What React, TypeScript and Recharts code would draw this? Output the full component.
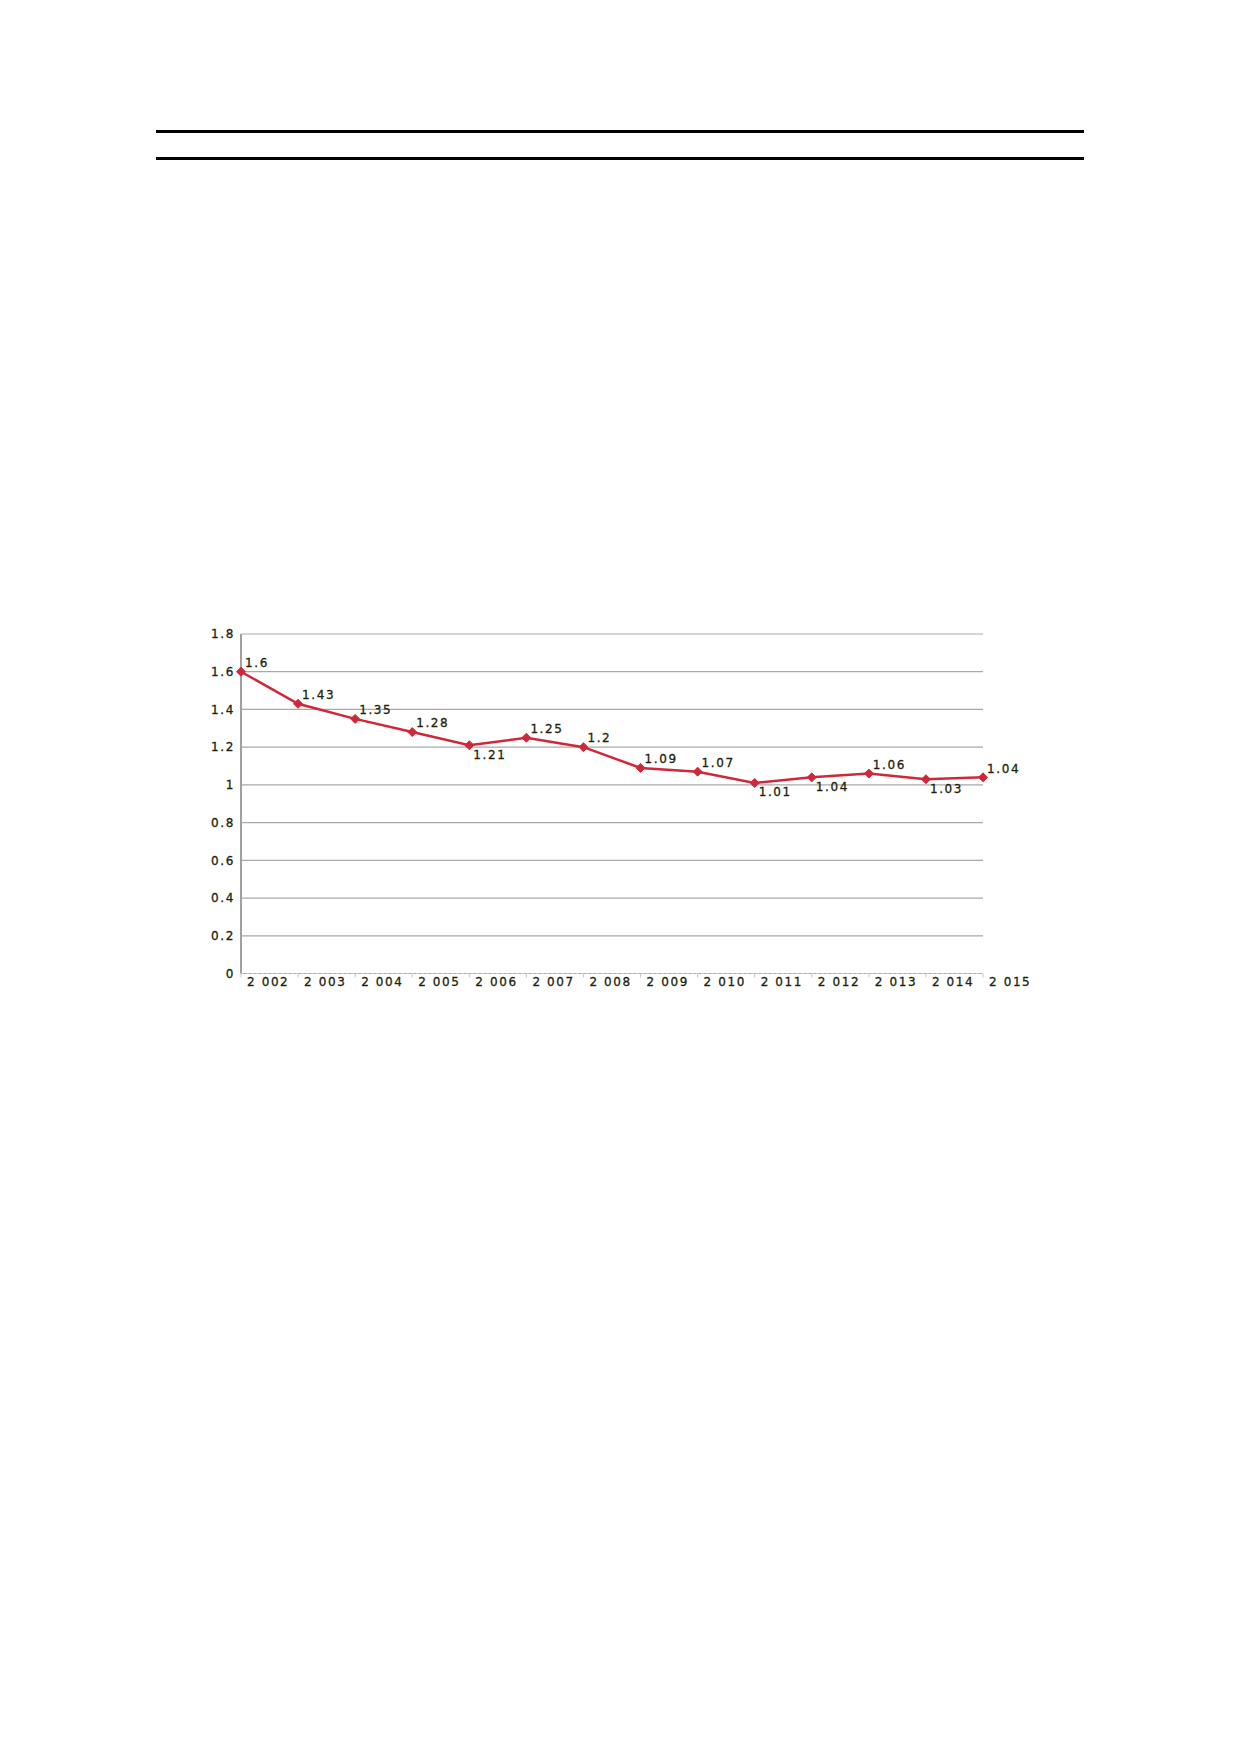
import React from 'react';
import { LineChart, Line, XAxis, YAxis, CartesianGrid, LabelList } from 'recharts';

const years = ['2 002', '2 003', '2 004', '2 005', '2 006', '2 007', '2 008', '2 009', '2 010', '2 011', '2 012', '2 013', '2 014', '2 015'];
const values = [1.6, 1.43, 1.35, 1.28, 1.21, 1.25, 1.2, 1.09, 1.07, 1.01, 1.04, 1.06, 1.03, 1.04];
const yTicks = [0, 0.2, 0.4, 0.6, 0.8, 1, 1.2, 1.4, 1.6, 1.8];
const labelBelow = [false, false, false, false, true, false, false, false, false, true, true, false, true, false];

const data = years.map((y, i) => ({ year: y, value: values[i] }));

const FONT = '"DejaVu Sans", Verdana, sans-serif';
const TEXT = '#221f0c';
const RED = '#d0283a';

const textProps = {
  fontFamily: FONT,
  fontSize: 12,
  letterSpacing: 1.6,
  fill: TEXT,
  stroke: TEXT,
  strokeWidth: 0.3,
};

const XTick = (props: any) => {
  const { x, y, payload } = props;
  return (
    <text x={x + 6} y={y} dy="0.71em" textAnchor="start" {...textProps}>
      {payload.value}
    </text>
  );
};

const YTick = (props: any) => {
  const { x, y, payload } = props;
  return (
    <text x={x} y={y} dy="0.36em" textAnchor="end" {...textProps}>
      {String(payload.value)}
    </text>
  );
};

const Diamond = (props: any) => {
  const { cx, cy } = props;
  if (cx == null || cy == null) return null;
  const r = 4.5;
  return <path d={`M${cx},${cy - r} L${cx + r},${cy} L${cx},${cy + r} L${cx - r},${cy} Z`} fill={RED} stroke={RED} strokeWidth={1} />;
};

const ValueLabel = (props: any) => {
  const { x, y, value, index } = props;
  const below = labelBelow[index];
  const cy = below ? y + 9 : y - 9;
  return (
    <text x={x + 4} y={cy} dy="0.36em" textAnchor="start" {...textProps}>
      {String(value)}
    </text>
  );
};

export default function App() {
  return (
    <div style={{ position: 'absolute', left: 0, top: 0, width: 1239, height: 1752, background: '#fff' }}>
      <div style={{ position: 'absolute', left: 156, top: 129.5, width: 928, height: 3, background: '#000' }} />
      <div style={{ position: 'absolute', left: 156, top: 157, width: 928, height: 3, background: '#000' }} />
      <div style={{ position: 'absolute', left: 150, top: 600 }}>
        <LineChart width={950} height={420} data={data} margin={{ top: 34, right: 117, left: 51, bottom: 16.5 }}>
          <CartesianGrid vertical={false} stroke="#a9a9a9" strokeWidth={1.2} />
          <XAxis
            dataKey="year"
            tick={<XTick />}
            tickSize={4}
            tickMargin={0}
            height={30}
            interval={0}
            axisLine={{ stroke: '#c8c8c8', strokeDasharray: '3 2' }}
            tickLine={{ stroke: '#c8c8c8' }}
          />
          <YAxis
            type="number"
            domain={[0, 1.8]}
            ticks={yTicks}
            tick={<YTick />}
            width={40}
            tickSize={0}
            tickMargin={6}
            axisLine={{ stroke: '#a0a0a0', strokeWidth: 2 }}
            tickLine={false}
            interval={0}
          />
          <Line
            type="linear"
            dataKey="value"
            stroke={RED}
            strokeWidth={2.5}
            dot={<Diamond />}
            activeDot={false}
            isAnimationActive={false}
          >
            <LabelList dataKey="value" content={<ValueLabel />} />
          </Line>
        </LineChart>
      </div>
    </div>
  );
}
